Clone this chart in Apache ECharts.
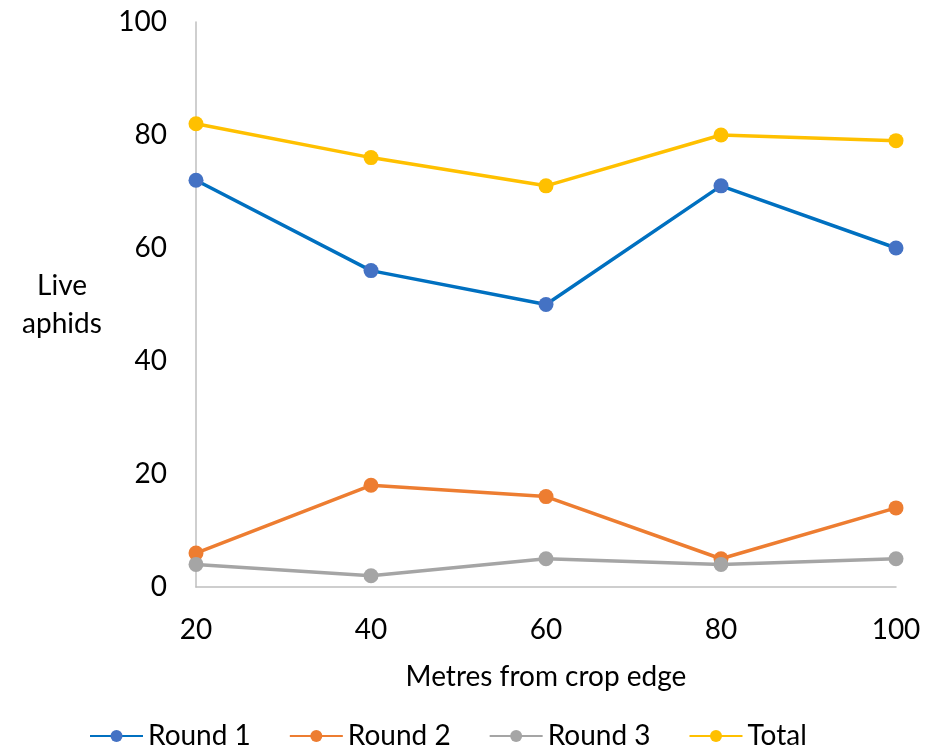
<!DOCTYPE html>
<html>
<head>
<meta charset="utf-8">
<script src="https://cdn.jsdelivr.net/npm/echarts@6/dist/echarts.min.js"></script>
<style>
  html, body { margin: 0; padding: 0; background: #fff; }
  #chart { width: 927px; height: 753px; }
</style>
</head>
<body>
<div id="chart"></div>
<script>
// Distance from the crop edge (m)
const distances = ['20', '40', '60', '80', '100'];
// Live aphid counts per sampling round
const round1 = [72, 56, 50, 71, 60];
const round2 = [6, 18, 16, 5, 14];
const round3 = [4, 2, 5, 4, 5];
const total = [82, 76, 71, 80, 79];

const FONT = 'Lato, "Open Sans", sans-serif';
const FS = 28;
const chart = echarts.init(document.getElementById('chart'), null, { renderer: 'canvas' });

function lineSeries(name, data, lineColor, markerColor) {
  return {
    name: name,
    type: 'line',
    data: data,
    symbol: 'circle',
    symbolSize: 15,
    showAllSymbol: true,
    lineStyle: { color: lineColor, width: 3.5 },
    itemStyle: { color: markerColor, borderWidth: 0 },
    emphasis: { disabled: true },
    animation: false
  };
}

chart.setOption({
  backgroundColor: '#ffffff',
  animation: false,
  textStyle: { fontFamily: FONT },
  grid: { left: 196, right: 31, top: 22, bottom: 166, containLabel: false },
  legend: {
    top: 717,
    left: 84,
    itemWidth: 53,
    itemHeight: 15,
    itemGap: 38,
    textStyle: { fontFamily: FONT, fontSize: FS, color: '#000' },
    data: ['Round 1', 'Round 2', 'Round 3', 'Total']
  },
  xAxis: {
    type: 'category',
    data: distances,
    boundaryGap: false,
    name: 'Metres from crop edge',
    nameLocation: 'middle',
    nameGap: 76,
    nameTextStyle: { fontFamily: FONT, fontSize: FS, color: '#000' },
    axisLine: { show: true, lineStyle: { color: '#bfbfbf', width: 1.5 } },
    axisTick: { show: false },
    axisLabel: { fontFamily: FONT, fontSize: FS, color: '#000', margin: 29 },
    splitLine: { show: false }
  },
  yAxis: {
    type: 'value',
    min: 0,
    max: 100,
    interval: 20,
    name: 'Live\naphids',
    nameLocation: 'middle',
    nameRotate: 0,
    nameGap: 134,
    nameTextStyle: { fontFamily: FONT, fontSize: FS, color: '#000', align: 'center', lineHeight: 38, padding: [20, 0, 0, 0] },
    axisLine: { show: true, lineStyle: { color: '#bfbfbf', width: 1.5 } },
    axisTick: { show: false },
    axisLabel: { fontFamily: FONT, fontSize: FS, color: '#000', margin: 29 },
    splitLine: { show: false }
  },
  series: [
    lineSeries('Round 1', round1, '#0070C0', '#4472C4'),
    lineSeries('Round 2', round2, '#ED7D31', '#ED7D31'),
    lineSeries('Round 3', round3, '#A5A5A5', '#A5A5A5'),
    lineSeries('Total', total, '#FFC000', '#FFC000')
  ]
});
</script>
</body>
</html>
